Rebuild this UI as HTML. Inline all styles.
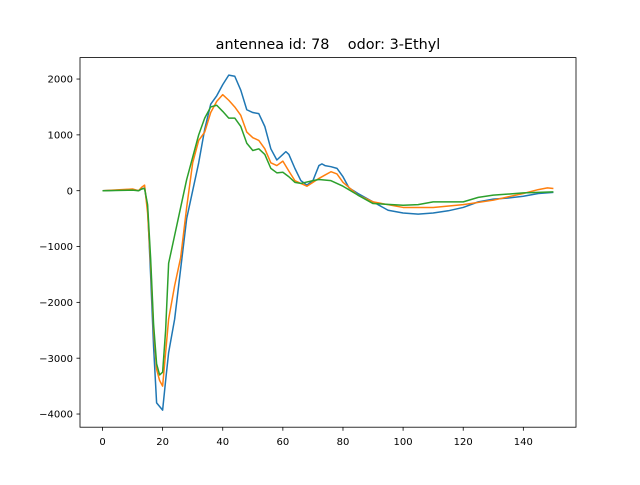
<!DOCTYPE html>
<html><head><meta charset="utf-8"><style>
body{margin:0;background:#fff}
svg text{font-family:"DejaVu Sans","Liberation Sans",sans-serif;fill:#000}
</style></head><body>
<svg id="chart" width="640" height="480" xmlns="http://www.w3.org/2000/svg">
<rect width="640" height="480" fill="#fff"/>
<text x="328" y="49" font-size="14.4" text-anchor="middle" style="white-space:pre" xml:space="preserve">antennea id: 78    odor: 3-Ethyl</text>
<g id="plot"></g>
<rect x="80" y="57.6" width="496" height="369.6" fill="none" stroke="#000" stroke-width="0.8"/>
</svg>
<script>
const xTicks=[0,20,40,60,80,100,120,140];
const yTicks=[2000,1000,0,-1000,-2000,-3000,-4000];
const xsBlue=[0,10,12,13,14,15,16,17,18,20,21,22,24,26,28,30,32,34,36,38,40,42,44,46,48,50,52,54,56,58,60,61,62,64,66,68,70,72,73,74,76,78,80,82,85,90,95,100,105,110,115,120,125,130,135,140,145,150];
const blue=[0,20,0,30,50,-300,-1500,-2800,-3800,-3930,-3400,-2900,-2300,-1400,-500,0,500,1100,1550,1700,1900,2070,2050,1800,1450,1400,1380,1150,750,550,650,700,650,400,180,100,180,450,480,450,430,400,250,50,-50,-200,-350,-400,-420,-400,-360,-300,-200,-150,-130,-100,-50,-30];
const xsOrange=[0,10,12,13,14,15,16,17,18,19,20,22,24,26,28,30,32,34,36,38,40,42,44,46,48,50,52,54,56,58,60,62,64,66,68,70,72,74,76,78,80,85,90,100,110,120,130,140,145,148,150];
const orange=[0,30,0,60,100,-400,-1300,-2500,-3200,-3400,-3500,-2300,-1700,-1200,-300,500,900,1050,1400,1600,1720,1620,1500,1350,1050,950,900,750,500,450,530,350,180,130,80,150,220,280,340,300,150,-80,-200,-300,-300,-250,-170,-50,20,50,40];
const xsGreen=[0,10,12,13,14,15,16,17,18,19,20,21,22,24,26,28,30,32,34,36,38,40,42,44,46,48,50,52,54,56,58,60,62,64,66,70,72,76,80,85,90,100,105,110,120,125,130,140,150];
const green=[0,10,0,30,40,-250,-1200,-2400,-3100,-3300,-3250,-2500,-1300,-800,-300,200,600,1000,1300,1500,1530,1420,1300,1300,1150,850,720,750,650,400,320,330,250,150,130,180,200,180,80,-80,-230,-260,-250,-200,-200,-120,-80,-40,-20];
const X=v=>102.5+(v)*3.006;
const Y=v=>190.7-v*0.05583;
const g=document.getElementById('plot');
const NS='http://www.w3.org/2000/svg';
function mk(t,a){const e=document.createElementNS(NS,t);for(const k in a)e.setAttribute(k,a[k]);g.appendChild(e);return e;}
xTicks.forEach(v=>{
 const l=mk('line',{x1:X(v),x2:X(v),y1:427.2,y2:430.7,stroke:'#000','stroke-width':0.8});
 
 
 const t=mk('text',{x:X(v),y:445,'font-size':10,'text-anchor':'middle'});t.textContent=v;
 
 
});
yTicks.forEach(v=>{
 const l=mk('line',{x1:76.5,x2:80,y1:Y(v),y2:Y(v),stroke:'#000','stroke-width':0.8});
 
 
 const t=mk('text',{x:73,y:Y(v)+3.6,'font-size':10,'text-anchor':'end'});t.textContent=v<0?'\u2212'+(-v):v;
 
 
});
function line(xs,ys,c,name){
 const p=mk('polyline',{points:xs.map((x,i)=>X(x)+','+Y(ys[i])).join(' '),fill:'none',stroke:c,'stroke-width':1.5,'stroke-linejoin':'round'});
 
 
}
line(xsBlue,blue,'#1f77b4','series-blue');
line(xsOrange,orange,'#ff7f0e','series-orange');
line(xsGreen,green,'#2ca02c','series-green');
</script>
</body></html>
